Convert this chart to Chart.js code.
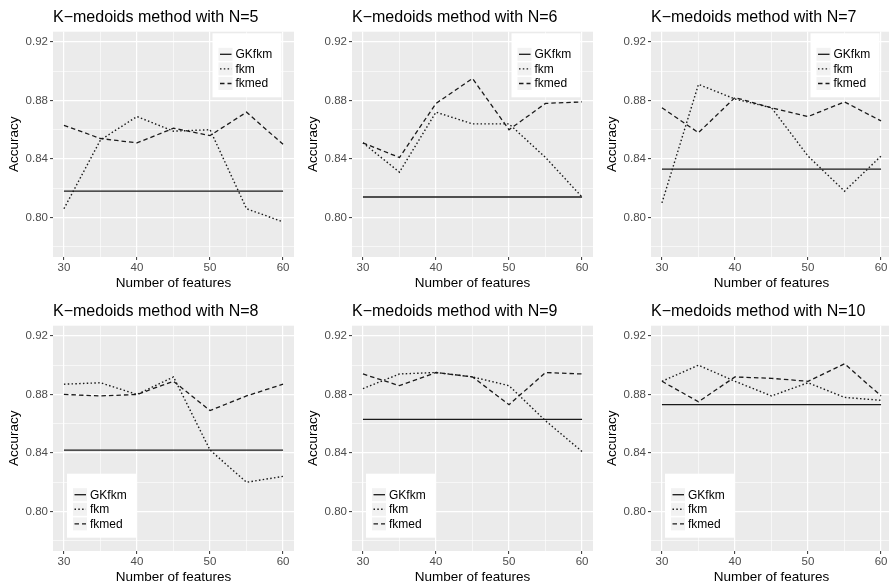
<!DOCTYPE html>
<html>
<head>
<meta charset="utf-8">
<script src="https://cdn.jsdelivr.net/npm/chart.js@4.4.1/dist/chart.umd.min.js"></script>
<style>
  body { margin: 0; background: #fff; width: 889px; height: 587px; overflow: hidden; position: relative; }
  canvas { position: absolute; }
</style>
</head>
<body>
<script>
// accuracy vs number of features, one panel per N
var features = [30, 35, 40, 45, 50, 55, 60];
var nValues = [5, 6, 7, 8, 9, 10];
var gkfkm = [0.818, 0.814, 0.833, 0.842, 0.863, 0.873];
var fkm = [
  [0.806, 0.853, 0.869, 0.859, 0.860, 0.806, 0.797],
  [0.851, 0.831, 0.872, 0.864, 0.864, 0.841, 0.814],
  [0.810, 0.891, 0.881, 0.875, 0.842, 0.818, 0.842],
  [0.887, 0.888, 0.880, 0.892, 0.842, 0.820, 0.824],
  [0.884, 0.894, 0.895, 0.892, 0.886, 0.862, 0.841],
  [0.889, 0.900, 0.889, 0.879, 0.888, 0.878, 0.876]
];
var fkmed = [
  [0.863, 0.854, 0.851, 0.861, 0.856, 0.872, 0.850],
  [0.851, 0.841, 0.878, 0.895, 0.860, 0.878, 0.879],
  [0.875, 0.858, 0.882, 0.875, 0.869, 0.879, 0.866],
  [0.880, 0.879, 0.880, 0.889, 0.869, 0.879, 0.887],
  [0.894, 0.886, 0.895, 0.892, 0.873, 0.895, 0.894],
  [0.889, 0.875, 0.892, 0.891, 0.889, 0.901, 0.879]
];
var yTicks = [0.78, 0.80, 0.82, 0.84, 0.86, 0.88, 0.90, 0.92];
var yLabels = [0.80, 0.84, 0.88, 0.92];
var xTicks = [30, 35, 40, 45, 50, 55, 60];
var xLabels = [30, 40, 50, 60];

var FONT = '"Liberation Sans", Arial, sans-serif';
Chart.defaults.font.family = FONT;

function isLabelled(list, v) {
  return list.some(function (l) { return Math.abs(l - v) < 1e-6; });
}

// grey panel background + legend box drawn inside the plot area
var panelDecor = {
  id: "panelDecor",
  beforeDraw: function (chart) {
    var a = chart.chartArea, ctx = chart.ctx;
    ctx.save();
    ctx.fillStyle = "#ebebeb";
    ctx.fillRect(a.left, a.top, a.right - a.left, a.bottom - a.top);
    ctx.restore();
  },
  afterDraw: function (chart, args, opts) {
    var a = chart.chartArea, ctx = chart.ctx;
    var w = 69, h = 64;
    var x = opts.corner === "topright" ? a.right - 12.5 - w : a.left + 14;
    var y = opts.corner === "topright" ? a.top + 1.6 : a.bottom - 13.3 - h;
    ctx.save();
    ctx.fillStyle = "#ffffff";
    ctx.fillRect(x, y, w, h);
    ctx.font = "12px " + FONT;
    ctx.textBaseline = "middle";
    chart.data.datasets.forEach(function (ds, i) {
      var cy = y + 21 + i * 14.6;
      ctx.fillStyle = "#f2f2f2";
      ctx.fillRect(x + 6, cy - 6.5, 14, 13);
      ctx.strokeStyle = ds.borderColor;
      ctx.lineWidth = ds.borderWidth;
      ctx.setLineDash(ds.borderDash || []);
      ctx.beginPath();
      ctx.moveTo(x + 7.5, cy);
      ctx.lineTo(x + 19, cy);
      ctx.stroke();
      ctx.setLineDash([]);
      ctx.fillStyle = "#000";
      ctx.fillText(ds.label, x + 23, cy + 0.5);
    });
    ctx.restore();
  }
};

var lefts = [0, 299, 598];
var tops = [0, 294];

function makePanel(i) {
  var canvas = document.createElement("canvas");
  canvas.width = 296;
  canvas.height = 293;
  canvas.style.left = lefts[i % 3] + "px";
  canvas.style.top = tops[Math.floor(i / 3)] + "px";
  document.body.appendChild(canvas);

  var last = features.length - 1;
  new Chart(canvas, {
    type: "line",
    data: {
      datasets: [
        {
          label: "GKfkm",
          data: [{ x: features[0], y: gkfkm[i] }, { x: features[last], y: gkfkm[i] }],
          borderColor: "#1a1a1a",
          borderWidth: 1.3
        },
        {
          label: "fkm",
          data: features.map(function (f, j) { return { x: f, y: fkm[i][j] }; }),
          borderColor: "#1a1a1a",
          borderWidth: 1.4,
          borderDash: [1.5, 2.3]
        },
        {
          label: "fkmed",
          data: features.map(function (f, j) { return { x: f, y: fkmed[i][j] }; }),
          borderColor: "#1a1a1a",
          borderWidth: 1.3,
          borderDash: [4.5, 3]
        }
      ]
    },
    options: {
      responsive: false,
      animation: false,
      devicePixelRatio: 1,
      elements: { point: { radius: 0 }, line: { tension: 0, fill: false } },
      layout: { padding: { left: 0, right: 2, top: 0, bottom: 0 } },
      plugins: {
        legend: { display: false },
        tooltip: { enabled: false },
        title: {
          display: true,
          text: "K\u2212medoids method with N=" + nValues[i],
          align: "start",
          fullSize: false,
          color: "#000",
          font: { size: 16, weight: "normal" },
          padding: { top: 8, bottom: 4.5 }
        },
        panelDecor: { corner: i < 3 ? "topright" : "bottomleft" }
      },
      scales: {
        x: {
          type: "linear",
          min: 28.5,
          max: 61.5,
          afterBuildTicks: function (axis) {
            axis.ticks = xTicks.map(function (v) { return { value: v }; });
          },
          afterFit: function (axis) { axis.height = 36; },
          border: { display: false },
          grid: {
            color: "#ffffff",
            lineWidth: function (c) { return c.tick && isLabelled(xLabels, c.tick.value) ? 1.2 : 0.6; },
            tickLength: 3,
            tickWidth: 1,
            tickColor: function (c) { return c.tick && isLabelled(xLabels, c.tick.value) ? "#333333" : "rgba(0,0,0,0)"; }
          },
          ticks: {
            autoSkip: false,
            maxRotation: 0,
            padding: 1,
            color: "#4d4d4d",
            font: { size: 11.5 },
            callback: function (v) { return isLabelled(xLabels, v) ? String(v) : ""; }
          },
          title: {
            display: true,
            text: "Number of features",
            color: "#000",
            font: { size: 13.5 },
            padding: { top: 0, bottom: 2 }
          }
        },
        y: {
          min: 0.773,
          max: 0.927,
          afterBuildTicks: function (axis) {
            axis.ticks = yTicks.map(function (v) { return { value: v }; });
          },
          afterFit: function (axis) { axis.width = 53; },
          border: { display: false },
          grid: {
            color: "#ffffff",
            lineWidth: function (c) { return c.tick && isLabelled(yLabels, c.tick.value) ? 1.2 : 0.6; },
            tickLength: 3,
            tickWidth: 1,
            tickColor: function (c) { return c.tick && isLabelled(yLabels, c.tick.value) ? "#333333" : "rgba(0,0,0,0)"; }
          },
          ticks: {
            autoSkip: false,
            padding: 2,
            color: "#4d4d4d",
            font: { size: 11.5 },
            callback: function (v) { return isLabelled(yLabels, v) ? v.toFixed(2) : ""; }
          },
          title: {
            display: true,
            text: "Accuracy",
            color: "#000",
            font: { size: 13.5 },
            padding: { top: 6, bottom: 0 }
          }
        }
      }
    },
    plugins: [panelDecor]
  });
}

for (var i = 0; i < nValues.length; i++) makePanel(i);
</script>
</body>
</html>
